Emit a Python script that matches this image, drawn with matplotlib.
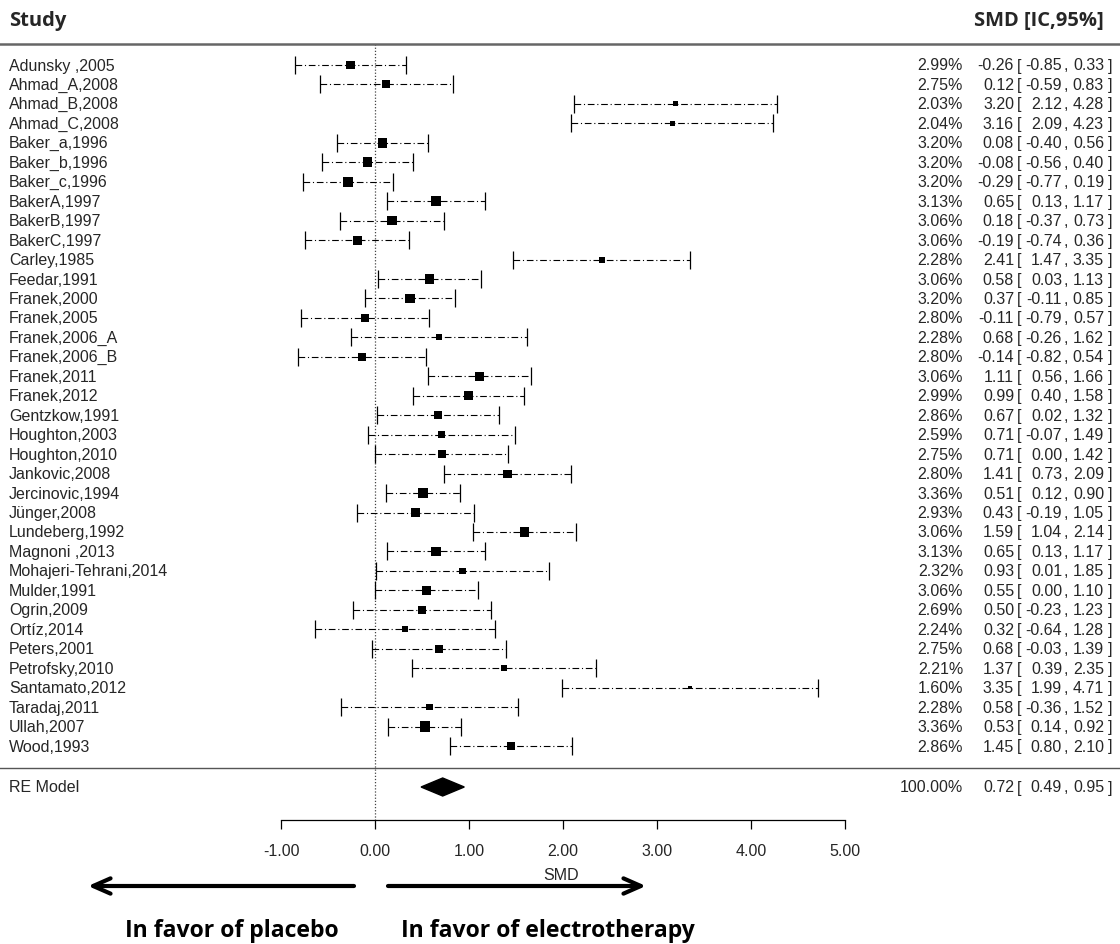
import numpy as np
import matplotlib
matplotlib.use('Agg')
import matplotlib.pyplot as plt
from matplotlib.transforms import blended_transform_factory

studies = ['Adunsky ,2005', 'Ahmad_A,2008', 'Ahmad_B,2008', 'Ahmad_C,2008',
           'Baker_a,1996', 'Baker_b,1996', 'Baker_c,1996', 'BakerA,1997',
           'BakerB,1997', 'BakerC,1997', 'Carley,1985', 'Feedar,1991',
           'Franek,2000', 'Franek,2005', 'Franek,2006_A', 'Franek,2006_B',
           'Franek,2011', 'Franek,2012', 'Gentzkow,1991', 'Houghton,2003',
           'Houghton,2010', 'Jankovic,2008', 'Jercinovic,1994', 'Jünger,2008',
           'Lundeberg,1992', 'Magnoni ,2013', 'Mohajeri-Tehrani,2014', 'Mulder,1991',
           'Ogrin,2009', 'Ortíz,2014', 'Peters,2001', 'Petrofsky,2010',
           'Santamato,2012', 'Taradaj,2011', 'Ullah,2007', 'Wood,1993']
weights = [2.99, 2.75, 2.03, 2.04, 3.20, 3.20, 3.20, 3.13, 3.06, 3.06, 2.28, 3.06,
           3.20, 2.80, 2.28, 2.80, 3.06, 2.99, 2.86, 2.59, 2.75, 2.80, 3.36, 2.93,
           3.06, 3.13, 2.32, 3.06, 2.69, 2.24, 2.75, 2.21, 1.60, 2.28, 3.36, 2.86]
smd = [-0.26, 0.12, 3.20, 3.16, 0.08, -0.08, -0.29, 0.65, 0.18, -0.19, 2.41, 0.58,
       0.37, -0.11, 0.68, -0.14, 1.11, 0.99, 0.67, 0.71, 0.71, 1.41, 0.51, 0.43,
       1.59, 0.65, 0.93, 0.55, 0.50, 0.32, 0.68, 1.37, 3.35, 0.58, 0.53, 1.45]
ci_low = [-0.85, -0.59, 2.12, 2.09, -0.40, -0.56, -0.77, 0.13, -0.37, -0.74, 1.47, 0.03,
          -0.11, -0.79, -0.26, -0.82, 0.56, 0.40, 0.02, -0.07, 0.00, 0.73, 0.12, -0.19,
          1.04, 0.13, 0.01, 0.00, -0.23, -0.64, -0.03, 0.39, 1.99, -0.36, 0.14, 0.80]
ci_high = [0.33, 0.83, 4.28, 4.23, 0.56, 0.40, 0.19, 1.17, 0.73, 0.36, 3.35, 1.13,
           0.85, 0.57, 1.62, 0.54, 1.66, 1.58, 1.32, 1.49, 1.42, 2.09, 0.90, 1.05,
           2.14, 1.17, 1.85, 1.10, 1.23, 1.28, 1.39, 2.35, 4.71, 1.52, 0.92, 2.10]

re_label = 'RE Model'
re_weight = 100.00
re_smd, re_low, re_high = 0.72, 0.49, 0.95

x_ticks = [-1, 0, 1, 2, 3, 4, 5]

W, H = 1120, 945
TXT = '#262626'
plt.rcParams['font.family'] = ['Liberation Sans', 'DejaVu Sans']
HEAD = 'Open Sans'

fig = plt.figure(figsize=(W / 100, H / 100), dpi=100)
ax = fig.add_axes([0, 0, 1, 1])
# x in SMD units, y in pixel rows from the top
x0, unit = 375, 94.0
ax.set_xlim(-x0 / unit, (W - x0) / unit)
ax.set_ylim(H, 0)
tr = blended_transform_factory(ax.transAxes, ax.transData)

first, step = 66, (747 - 66) / 35
rows = first + step * np.arange(len(studies))
re_y, sep_y, top_y, axis_y = 788, 769, 45, 821

# CI lines
smd_a, lo_a, hi_a = np.array(smd), np.array(ci_low), np.array(ci_high)
eb = ax.errorbar(smd_a, rows, xerr=[smd_a - lo_a, hi_a - smd_a], fmt='none',
                 ecolor='black', elinewidth=0.8, capsize=6.5, capthick=0.9, zorder=3)
eb[2][0].set_linestyle((0, (6, 2.5, 1, 2.5)))

# squares sized by weight
w = np.array(weights)
side = 3.3 + (w - w.min()) / (w.max() - w.min()) * 7.1
ax.scatter(smd_a, rows, s=(side * 0.72) ** 2, marker='s', color='black',
           linewidths=0, zorder=4)

# summary diamond
dh = 9
ax.fill([re_low, re_smd, re_high, re_smd], [re_y, re_y - dh, re_y, re_y + dh],
        color='black', zorder=4)

# reference line at 0
ax.vlines(0, top_y, axis_y, colors='#444444', linestyles=(0, (1, 1.5)), lw=0.9)

# separators
ax.axhline(top_y, color='#666666', lw=1.8)
ax.axhline(sep_y, color='#555555', lw=1.0)

# labels and columns
fs = 11.5
def put(x, y, s, ha):
    ax.text(x / W, y, s, transform=tr, ha=ha, va='center', fontsize=fs, color=TXT)

for y, name, wt, e, lo, hi in zip(list(rows) + [re_y], studies + [re_label],
                                  weights + [re_weight], smd + [re_smd],
                                  ci_low + [re_low], ci_high + [re_high]):
    put(9, y, name, 'left')
    put(963, y, f'{wt:.2f}%', 'right')
    put(1014, y, f'{e:.2f}', 'right')
    put(1017, y, '[', 'left')
    put(1062, y, f'{lo:.2f}', 'right')
    put(1064, y, ',', 'left')
    put(1104, y, f'{hi:.2f}', 'right')
    put(1108, y, ']', 'left')

ax.text(9 / W, 21, 'Study', transform=tr, ha='left', va='center', fontsize=14.5,
        fontweight='bold', family=HEAD, color=TXT)
ax.text(1104 / W, 21, 'SMD [IC,95%]', transform=tr, ha='right', va='center', fontsize=14.5,
        fontweight='bold', family=HEAD, color=TXT)

# x axis
for s in ['left', 'right', 'top']:
    ax.spines[s].set_visible(False)
ax.spines['bottom'].set_position(('data', axis_y))
ax.spines['bottom'].set_bounds(x_ticks[0], x_ticks[-1])
ax.spines['bottom'].set_linewidth(0.9)
ax.set_xticks(x_ticks)
ax.set_xticklabels([f'{t:.2f}' for t in x_ticks])
ax.tick_params(axis='x', direction='out', length=6.7, width=0.9, pad=10,
               labelsize=fs, labelcolor=TXT)
ax.set_yticks([])

ax.text(561 / W, 876, 'SMD', transform=tr, ha='center', va='center', fontsize=11.5, color=TXT)

# direction arrows
arrow = dict(arrowstyle='->,head_length=1.25,head_width=0.55', lw=3.0, color='black',
             shrinkA=0, shrinkB=0)
ax.annotate('', xy=(88 / W, 887), xytext=(354 / W, 887), xycoords=tr, textcoords=tr,
            arrowprops=arrow)
ax.annotate('', xy=(646 / W, 887), xytext=(388 / W, 887), xycoords=tr, textcoords=tr,
            arrowprops=arrow)
ax.text(232 / W, 931, 'In favor of placebo', transform=tr, ha='center', va='center',
        fontsize=16.6, fontweight='bold', family=HEAD, color='black')
ax.text(548 / W, 931, 'In favor of electrotherapy', transform=tr, ha='center', va='center',
        fontsize=16.6, fontweight='bold', family=HEAD, color='black')

fig.savefig('out.png', dpi=100, facecolor='white')
